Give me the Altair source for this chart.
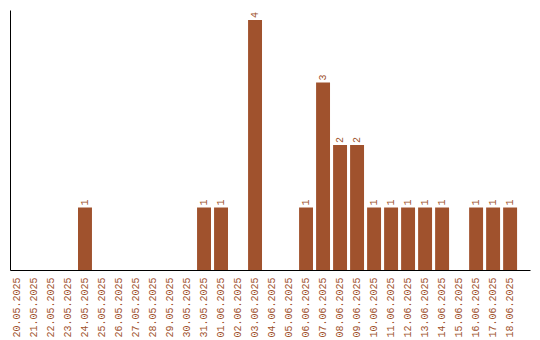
import altair as alt
import pandas as pd

dates = ["20.05.2025", "21.05.2025", "22.05.2025", "23.05.2025", "24.05.2025",
         "25.05.2025", "26.05.2025", "27.05.2025", "28.05.2025", "29.05.2025",
         "30.05.2025", "31.05.2025", "01.06.2025", "02.06.2025", "03.06.2025",
         "04.06.2025", "05.06.2025", "06.06.2025", "07.06.2025", "08.06.2025",
         "09.06.2025", "10.06.2025", "11.06.2025", "12.06.2025", "13.06.2025",
         "14.06.2025", "15.06.2025", "16.06.2025", "17.06.2025", "18.06.2025"]
counts = [0, 0, 0, 0, 1,
          0, 0, 0, 0, 0,
          0, 1, 1, 0, 4,
          0, 0, 1, 3, 2,
          2, 1, 1, 1, 1,
          1, 0, 1, 1, 1]

df = pd.DataFrame({"date": dates, "count": counts})
df["label"] = [str(c) if c > 0 else "" for c in counts]

COLOR = "#A0522D"
FONT = "Liberation Mono"

x = alt.X("date:N", sort=dates, title=None,
          scale=alt.Scale(paddingInner=0.18, paddingOuter=0.38, align=0),
          axis=alt.Axis(labelAngle=-90, ticks=False, domainColor="black",
                        labelColor=COLOR, labelFont=FONT, labelFontSize=10,
                        labelPadding=7, grid=False))
y = alt.Y("count:Q", title=None, scale=alt.Scale(domain=[0, 4.16], nice=False),
          axis=alt.Axis(labels=False, ticks=False, grid=False, domainColor="black"))

bars = alt.Chart(df).mark_bar(color=COLOR).encode(x=x, y=y)
text = alt.Chart(df).mark_text(angle=270, align="left", baseline="middle", dx=2,
                               color=COLOR, font=FONT, fontSize=10).encode(
    x=alt.X("date:N", sort=dates), y="count:Q", text="label:N")

chart = (bars + text).properties(
    width=520, height=260,
    padding={"left": 10, "top": 10, "right": 10, "bottom": 5}
).configure_view(stroke=None)

chart.save("out.html", embed_options={"renderer": "svg", "actions": False})
